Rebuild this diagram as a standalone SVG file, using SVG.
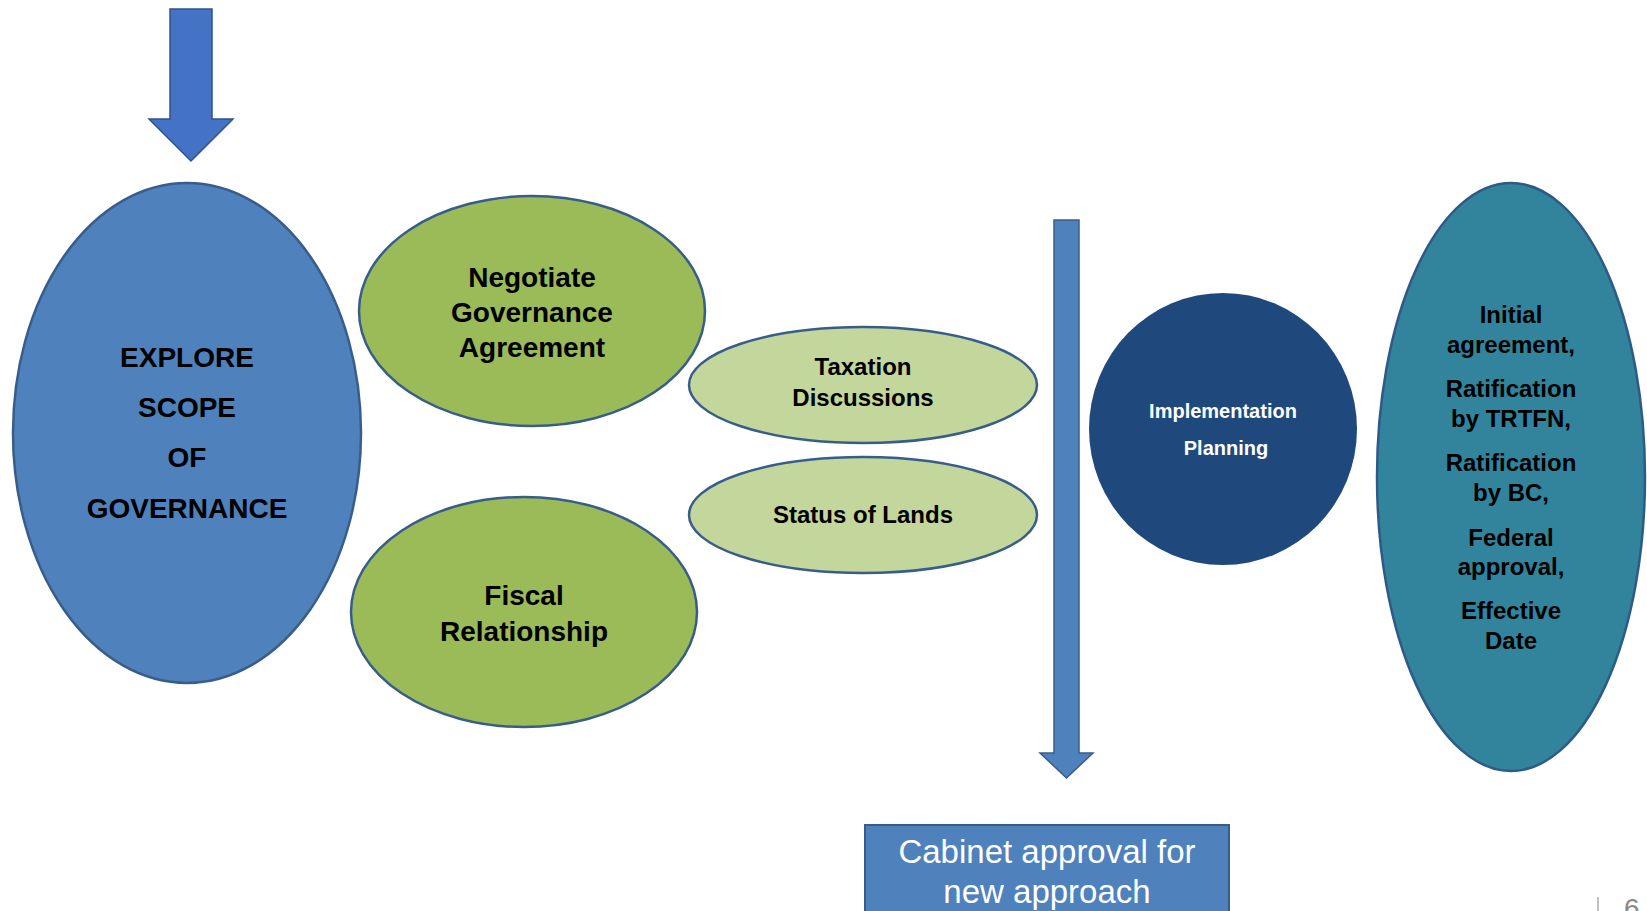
<svg xmlns="http://www.w3.org/2000/svg" width="1647" height="911" viewBox="0 0 1647 911">
<style>
.t{font-family:"Liberation Sans",Arial,sans-serif;font-weight:bold;fill:#000;text-anchor:middle}
.w{fill:#fff}
.n{font-weight:normal}
.shape{stroke:#385D8A;stroke-width:2.5}
</style>
<rect width="1647" height="911" fill="#fff"/>
<g id="connectors">
<path id="arrow-top" d="M170,9 H212 V119 H233 L191,161 L149,119 H170 Z" fill="#4472C4" stroke="#2F528F" stroke-width="1.5"/>
<path id="arrow-bar" d="M1054,220 H1079 V753 H1093 L1066.5,778 L1040,753 H1054 Z" fill="#4F81BD" stroke="#385D8A" stroke-width="1.5"/>
</g>
<g id="explore">
<ellipse class="shape" cx="187" cy="433" rx="174" ry="250" fill="#4F81BD"/>
<text class="t" x="187" y="367" font-size="28">EXPLORE</text>
<text class="t" x="187" y="417" font-size="28">SCOPE</text>
<text class="t" x="187" y="467" font-size="28">OF</text>
<text class="t" x="187" y="518" font-size="28">GOVERNANCE</text>
</g>
<g id="negotiate">
<ellipse class="shape" cx="532" cy="311" rx="173" ry="115" fill="#9BBB59"/>
<text class="t" x="532" y="287" font-size="28">Negotiate</text>
<text class="t" x="532" y="322" font-size="28">Governance</text>
<text class="t" x="532" y="357" font-size="28">Agreement</text>
</g>
<g id="fiscal">
<ellipse class="shape" cx="524" cy="612" rx="173" ry="115" fill="#9BBB59"/>
<text class="t" x="524" y="605" font-size="28">Fiscal</text>
<text class="t" x="524" y="641" font-size="28">Relationship</text>
</g>
<g id="taxation">
<ellipse class="shape" cx="863" cy="385" rx="174" ry="58" fill="#C3D69B"/>
<text class="t" x="863" y="375" font-size="24">Taxation</text>
<text class="t" x="863" y="406" font-size="24">Discussions</text>
</g>
<g id="lands">
<ellipse class="shape" cx="863" cy="515" rx="174" ry="58" fill="#C3D69B"/>
<text class="t" x="863" y="523" font-size="24">Status of Lands</text>
</g>
<g id="implementation">
<ellipse cx="1223" cy="429" rx="134" ry="136" fill="#1F497D"/>
<text class="t w" x="1223" y="418" font-size="20">Implementation</text>
<text class="t w" x="1226" y="455" font-size="20">Planning</text>
</g>
<g id="approvals">
<ellipse cx="1511" cy="477" rx="134" ry="294" fill="#31849B" stroke="#2E5A88" stroke-width="2.5"/>
<text class="t" x="1511" y="323" font-size="24">Initial</text>
<text class="t" x="1511" y="353" font-size="24">agreement,</text>
<text class="t" x="1511" y="397" font-size="24">Ratification</text>
<text class="t" x="1511" y="427" font-size="24">by TRTFN,</text>
<text class="t" x="1511" y="471" font-size="24">Ratification</text>
<text class="t" x="1511" y="501" font-size="24">by BC,</text>
<text class="t" x="1511" y="546" font-size="24">Federal</text>
<text class="t" x="1511" y="575" font-size="24">approval,</text>
<text class="t" x="1511" y="619" font-size="24">Effective</text>
<text class="t" x="1511" y="649" font-size="24">Date</text>
</g>
<g id="cabinet">
<rect x="865" y="825" width="364" height="100" fill="#4F81BD" stroke="#385D8A" stroke-width="2"/>
<text class="t w n" x="1047" y="863" font-size="33">Cabinet approval for</text>
<text class="t w n" x="1047" y="903" font-size="33">new approach</text>
</g>
<g id="page">
<line x1="1598" y1="897" x2="1598" y2="911" stroke="#999" stroke-width="1.2"/>
<text x="1624" y="918" font-family="Liberation Sans,Arial,sans-serif" font-size="28" fill="#888">6</text>
</g>
</svg>
